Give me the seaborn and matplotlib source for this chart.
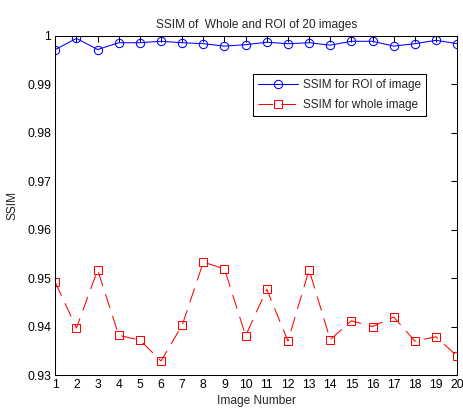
import matplotlib
matplotlib.use("Agg")
import matplotlib.pyplot as plt
import numpy as np
import pandas as pd
import seaborn as sns

image_number = list(range(1, 21))
ssim_roi = [0.9972, 0.9995, 0.9972, 0.9986, 0.9986, 0.9989, 0.9986, 0.9984, 0.9979, 0.9982,
            0.9987, 0.9984, 0.9986, 0.9981, 0.9989, 0.9989, 0.9979, 0.9984, 0.9991, 0.9984]
ssim_whole = [0.9491, 0.9397, 0.9517, 0.9382, 0.9372, 0.9329, 0.9403, 0.9533, 0.9519, 0.9381,
              0.9477, 0.9370, 0.9517, 0.9373, 0.9412, 0.9400, 0.9420, 0.9370, 0.9379, 0.9339]
y_ticks = [0.93, 0.94, 0.95, 0.96, 0.97, 0.98, 0.99, 1.0]
y_tick_labels = ["0.93", "0.94", "0.95", "0.96", "0.97", "0.98", "0.99", "1"]

df = pd.DataFrame({"image": image_number, "roi": ssim_roi, "whole": ssim_whole})

sns.set_theme(style="white")
plt.rcParams["font.family"] = ["Liberation Sans", "DejaVu Sans"]

fig = plt.figure(figsize=(4.64, 4.09), dpi=100)
ax = fig.add_axes([0.1192, 0.0831, 0.866, 0.829])

# ROI line (solid, open circles)
sns.lineplot(data=df, x="image", y="roi", ax=ax, color="blue", linewidth=0.75,
             marker="o", markersize=6, markerfacecolor="none", markeredgecolor="blue",
             markeredgewidth=0.75, label="SSIM for ROI of image")

# Whole image line (dashed, open squares)
sns.lineplot(data=df, x="image", y="whole", ax=ax, color="red", linewidth=0.75,
             linestyle=(0, (14, 8)), marker="s", markersize=6, markerfacecolor="none",
             markeredgecolor="red", markeredgewidth=0.75, label="SSIM for whole image")

ax.set_xlim(1, 20)
ax.set_ylim(0.93, 1.0)
ax.set_xticks(image_number)
ax.set_yticks(y_ticks)
ax.set_yticklabels(y_tick_labels)
ax.tick_params(axis="both", which="both", direction="in", length=4, width=0.75,
               labelsize=8.7, top=True, right=True, pad=3, colors="black")
for s in ax.spines.values():
    s.set_color("black")
    s.set_linewidth(0.75)

ax.set_title("SSIM of  Whole and ROI of 20 images", fontsize=8.6, pad=6)
ax.set_xlabel("Image Number", fontsize=8.6, labelpad=3)
ax.set_ylabel("SSIM", fontsize=8.6, labelpad=6)

leg = ax.legend(loc="upper right", bbox_to_anchor=(0.923, 0.888), fontsize=8.5,
                fancybox=False, framealpha=1, borderpad=0.4, borderaxespad=0,
                handlelength=3.4, handletextpad=0.45, labelspacing=0.7)
leg.get_frame().set_edgecolor("black")
leg.get_frame().set_linewidth(0.75)

fig.savefig("out.png", dpi=100)
